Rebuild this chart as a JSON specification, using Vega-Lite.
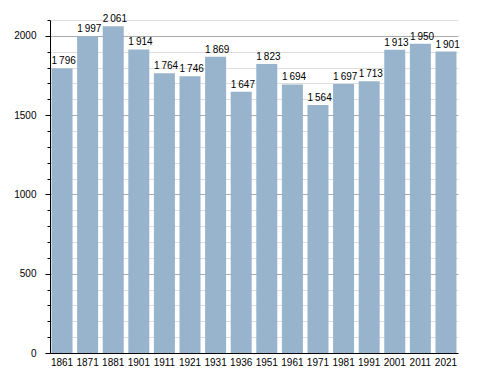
{
  "$schema": "https://vega.github.io/schema/vega-lite/v6.json",
  "width": 408,
  "height": 333,
  "autosize": {"type": "none"},
  "padding": {"left": 50, "top": 20, "right": 30, "bottom": 20},
  "background": "white",
  "config": {
    "view": {"stroke": null},
    "font": "Liberation Sans",
    "locale": {"number": {"decimal": ".", "thousands": "\u2009", "grouping": [3], "currency": ["", ""]}}
  },
  "data": {
    "values": [
      {"year": "1861", "pop": 1796},
      {"year": "1871", "pop": 1997},
      {"year": "1881", "pop": 2061},
      {"year": "1901", "pop": 1914},
      {"year": "1911", "pop": 1764},
      {"year": "1921", "pop": 1746},
      {"year": "1931", "pop": 1869},
      {"year": "1936", "pop": 1647},
      {"year": "1951", "pop": 1823},
      {"year": "1961", "pop": 1694},
      {"year": "1971", "pop": 1564},
      {"year": "1981", "pop": 1697},
      {"year": "1991", "pop": 1713},
      {"year": "2001", "pop": 1913},
      {"year": "2011", "pop": 1950},
      {"year": "2021", "pop": 1901}
    ]
  },
  "layer": [
    {
      "mark": {"type": "bar", "color": "#98b3cc"},
      "encoding": {
        "x": {
          "field": "year", "type": "ordinal", "sort": null,
          "scale": {"paddingInner": 0.18, "paddingOuter": 0.06},
          "axis": {
            "title": null, "labelAngle": 0, "ticks": false,
            "domainColor": "#000", "labelColor": "#000",
            "labelFontSize": 10, "labelPadding": 4
          }
        },
        "y": {
          "field": "pop", "type": "quantitative",
          "scale": {"domain": [0, 2100], "nice": false},
          "axis": {
            "title": null,
            "values": [0,100,200,300,400,500,600,700,800,900,1000,1100,1200,1300,1400,1500,1600,1700,1800,1900,2000,2100],
            "tickCount": 50,
            "format": "d",
            "labelOverlap": false,
            "labelExpr": "datum.value % 500 === 0 ? datum.label : ''",
            "gridColor": {"condition": {"test": "datum.value % 500 === 0 && datum.value > 0", "value": "#aaaaaa"}, "value": "#dddddd"},
            "tickSize": {"condition": {"test": "datum.value % 500 === 0", "value": 5}, "value": 3},
            "tickColor": "#000",
            "domainColor": "#000",
            "labelColor": "#000",
            "labelFontSize": 10,
            "labelPadding": 9
          }
        }
      }
    },
    {
      "mark": {"type": "text", "align": "left", "baseline": "alphabetic", "dy": -4, "dx": 0, "fontSize": 10, "color": "#000"},
      "encoding": {
        "x": {"field": "year", "type": "ordinal", "sort": null, "bandPosition": 0},
        "y": {"field": "pop", "type": "quantitative"},
        "text": {"field": "pop", "type": "quantitative", "format": ",d"}
      }
    }
  ]
}
